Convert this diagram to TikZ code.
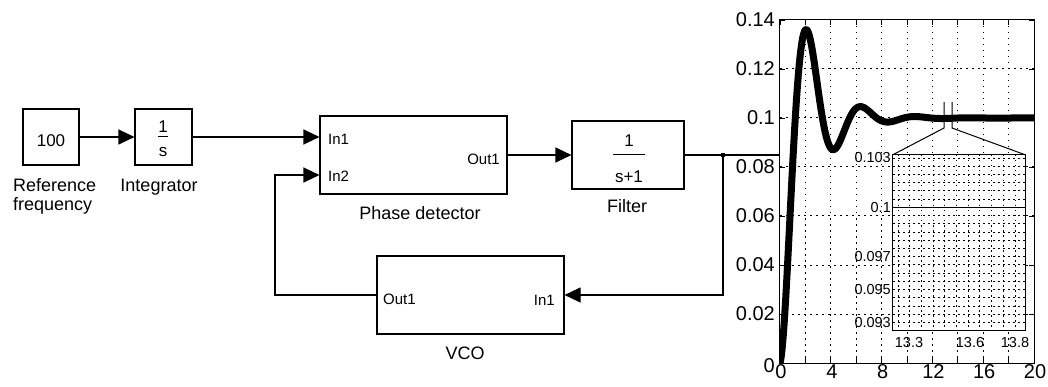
\documentclass[tikz,border=0pt]{standalone}
\usepackage{fontspec}
\setmainfont{Liberation Sans}
\usetikzlibrary{arrows.meta,calc}
\begin{document}
\begin{tikzpicture}[x=1pt,y=-1pt,
  blk/.style={draw, line width=1.1pt, inner sep=0pt, fill=white},
  lbl/.style={font=\fontsize{18}{20}\selectfont, anchor=base, inner sep=0pt},
  num/.style={font=\fontsize{17}{19}\selectfont, anchor=base, inner sep=0pt},
  port/.style={font=\fontsize{15}{17}\selectfont, inner sep=0pt},
  conn/.style={line width=1.1pt},
  arr/.style={conn, -{Triangle[length=16pt,width=15pt]}},
  ax/.style={font=\fontsize{20}{22}\selectfont, inner sep=0pt},
  inl/.style={font=\fontsize{14.5}{16}\selectfont, inner sep=0pt},
  mgrid/.style={line width=1pt, dash pattern=on 1.5pt off 4.5pt},
  igrid/.style={line width=0.9pt, dash pattern=on 1.5pt off 3.5pt},
]
\useasboundingbox[fill=white] (0,0) rectangle (1048,387);

% ---------- block diagram ----------
\node[blk, minimum width=56pt, minimum height=56pt] (ref) at (51,137) {};
\node[num] (reftxt) at (51,147) {100};
\node[lbl, anchor=base west] (reflbl1) at (13,192) {Reference};
\node[lbl, anchor=base west] (reflbl2) at (13,211) {frequency};

\node[blk, minimum width=57pt, minimum height=56pt] (integ) at (163.5,137) {};
\node[num] (integnum) at (163,133) {1};
\node[num] (integden) at (163,157) {s};
\draw[line width=1pt] (158,137) -- (168,137);
\node[lbl] (integlbl) at (159,192) {Integrator};

\node[blk, minimum width=187pt, minimum height=78pt] (pd) at (413.5,155) {};
\node[port, anchor=base west] (pdin1txt) at (328,145) {In1};
\node[port, anchor=base west] (pdin2txt) at (328,182) {In2};
\node[port, anchor=base east] (pdouttxt) at (500,165) {Out1};
\node[lbl] (pdlbl) at (420,219) {Phase detector};

\node[blk, minimum width=112pt, minimum height=68pt] (filt) at (628,155) {};
\node[num] (filtnum) at (629,147) {1};
\node[num] (filtden) at (629,183) {s+1};
\draw[line width=1pt] (613,155) -- (645,155);
\node[lbl] (filtlbl) at (627,213) {Filter};

\node[blk, minimum width=187pt, minimum height=78pt] (vco) at (470.5,295) {};
\node[port, anchor=base west] (vcoouttxt) at (383,304) {Out1};
\node[port, anchor=base east] (vcointxt) at (555,305) {In1};
\node[lbl] (vcolbl) at (465,359) {VCO};

% ---------- plot frame node ----------
\node[minimum width=254pt, minimum height=343pt, inner sep=0pt] (axes) at (907,191.5) {};

% connectors
\coordinate (pdin2) at ($(pd.west)+(0,20)$);
\coordinate (branch) at (723,155);
\coordinate (fb) at (275,295);
\draw[arr] (ref.east) -- (integ.west);
\draw[arr] (integ.east) -- (integ.east -| pd.west);
\draw[arr] (pd.east) -- (filt.west);
\draw[conn] (filt.east) -- (axes.west |- filt.east);
\fill (branch) +(-2,-2) rectangle +(2,2);
\draw[arr] (branch) |- (vco.east);
\draw[arr] (vco.west) -- (fb) |- (pdin2);

% ---------- main plot ----------
\foreach \t in {2,4,...,18} \draw[mgrid] ({780+12.7*\t},20) -- ({780+12.7*\t},363);
\foreach \v in {1,...,6} \draw[mgrid] (780,{363-49*\v}) -- (1034,{363-49*\v});

\begin{scope}
\clip (780,20) rectangle (1034,363);
\draw[line width=7pt, line join=round] plot[domain=0:20, samples=320, smooth]
  ({780+12.7*\x}, {363-245*(1-exp(-0.48*\x)*(cos(deg(1.47*\x))+0.2*sin(deg(1.47*\x))))});
\end{scope}

\draw[line width=1pt] (axes.south west) rectangle (axes.north east);
\foreach \t in {0,2,...,20} {
  \draw[line width=0.9pt] ({780+12.7*\t},363) -- ++(0,-5);
  \draw[line width=0.9pt] ({780+12.7*\t},20) -- ++(0,5);
}
\foreach \v in {0,...,7} {
  \draw[line width=0.9pt] (780,{363-49*\v}) -- ++(5,0);
  \draw[line width=0.9pt] (1034,{363-49*\v}) -- ++(-5,0);
}
\foreach \t in {0,4,...,20} \node[ax] (xl\t) at ({781+12.7*\t},372) {\t};
\node[ax, anchor=east] (yl0) at (775,366) {0};
\foreach \v/\s in {1/0.02,2/0.04,3/0.06,4/0.08,5/0.1,6/0.12,7/0.14}
  \node[ax, anchor=east] (yl\v) at (775,{363-49*\v}) {\s};

% ---------- inset ----------
\node[fill=white, minimum width=132pt, minimum height=175pt, inner sep=0pt] (inset) at (959,242.5) {};
\foreach \k in {0,...,20} \draw[igrid] (893,{158+8.225*\k}) -- (1025,{158+8.225*\k});
\foreach \k in {0,...,10} \draw[igrid] ({898+11.7*\k},155) -- ({898+11.7*\k},330);
\draw[line width=1.6pt] (893,207.4) -- (1025,207.4);
\draw[line width=1.1pt] (inset.south west) rectangle (inset.north east);
\node[inl, anchor=east] (il1) at (891,158) {0.103};
\node[inl, anchor=east] (il2) at (891,207.4) {0.1};
\node[inl, anchor=east] (il3) at (891,256.7) {0.097};
\node[inl, anchor=east] (il4) at (891,289.6) {0.095};
\node[inl, anchor=east] (il5) at (891,322.5) {0.093};
\node[inl] (ix1) at (909,343) {13.3};
\node[inl] (ix2) at (970,343) {13.6};
\node[inl] (ix3) at (1015,343) {13.8};

% zoom marker
\coordinate (zl) at (944,128);
\coordinate (zr) at (952,128);
\draw[line width=1pt] (944,102) -- (zl) -- (inset.north west);
\draw[line width=1pt] (952,102) -- (zr) -- (inset.north east);
\end{tikzpicture}
\end{document}
